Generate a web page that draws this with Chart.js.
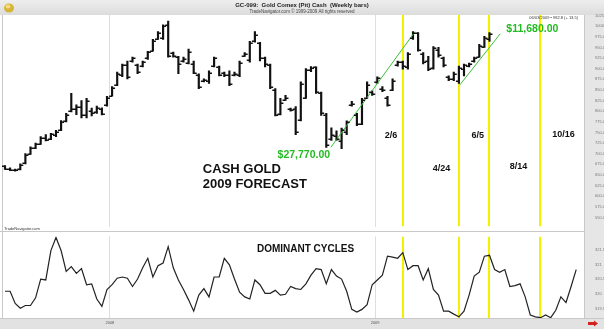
<!DOCTYPE html>
<html><head><meta charset="utf-8">
<script src="https://cdn.jsdelivr.net/npm/chart.js@4.4.0/dist/chart.umd.min.js"></script>
<style>
html,body{margin:0;padding:0;background:#fff;width:604px;height:329px;overflow:hidden;}
#a{position:absolute;left:0;top:0;width:604px;height:232px;}
#b{position:absolute;left:0;top:231px;width:604px;height:98px;}
</style></head><body>
<canvas id="a" width="604" height="232"></canvas>
<canvas id="b" width="604" height="98"></canvas>
<script>
// ---- data (weekly bars, index 0 = week of 2007-08-10) ----
const lows   = [663,660,659,662,676,698,712,722,730,733, 740,754,775,798,792,784,784,789,795,791, 812,835,860,881,876,915,888,904,922,941, 969,969,927,927,888,915,911,888,853,869, 865,904,883,881,860,883,881,929,915,962, 918,904,853,789,791,825,800,745,777,830, 893,842,790,715,731,731,712,745,812,766, 768,830,837,865,846,812,848,906,899,899, 969,941,911,895,899,927,904,872,872,865, 883,904,915,927,950,964];
const highs  = [672,667,664,676,700,716,725,740,745,748, 755,778,795,842,815,825,830,807,812,808, 835,858,892,911,918,927,911,918,941,969, 987,1003,1012,939,929,927,946,918,888,876, 895,927,906,892,895,892,918,938,964,987, 962,927,911,853,830,837,807,811,869,900, 905,904,845,795,761,754,760,777,823,795, 830,869,848,881,858,835,876,918,918,938, 987,985,938,929,952,950,927,883,892,906, 911,913,927,957,976,985];
const opens  = [670,665,662,663,677,699,713,723,738,734, 745,755,776,800,805,810,790,800,797,806, 814,836,862,884,908,917,909,906,924,942, 970,972,1002,937,928,918,914,912,886,870, 870,906,904,890,885,885,885,930,920,964, 960,925,908,850,794,826,806,805,780,832, 898,903,843,792,735,742,730,752,814,790, 770,832,846,868,852,830,850,908,915,905, 972,984,935,918,902,945,925,880,875,870, 900,906,917,928,952,970];
const closes = [665,662,661,674,697,713,722,738,733,746, 752,775,792,805,810,790,825,795,808,794, 832,855,888,908,880,924,892,915,938,965, 985,1000,930,930,912,922,940,890,858,874, 890,924,886,884,864,888,914,934,960,980, 925,910,858,792,820,832,802,752,865,897, 902,846,795,720,745,735,755,774,818,770, 826,862,840,878,850,815,872,915,906,935, 985,944,915,900,948,932,908,875,888,902, 908,911,925,954,972,982];
const cycle  = [320.10,320.10,319.69,319.53,319.62,319.62,319.88,320.51,320.48,321.47,
  321.91,321.47,320.77,320.93,320.70,320.86,320.32,320.35,319.84,319.59,
  320.16,320.32,320.54,320.58,320.54,320.26,320.51,320.89,321.21,320.58,
  320.96,321.05,321.60,320.89,320.48,320.16,319.81,319.43,319.97,320.19,
  319.91,320.58,320.58,321.21,320.99,320.51,320.07,319.91,319.84,320.48,
  320.32,320.03,320.03,320.13,319.97,320.00,320.26,320.19,320.16,320.35,
  320.64,320.86,320.83,320.35,320.83,320.61,320.51,320.10,319.49,319.40,
  319.49,319.65,320.32,320.48,320.64,321.28,321.25,321.21,321.40,320.83,
  320.96,320.96,320.48,320.86,320.16,319.97,319.43,319.43,319.33,319.24,
  319.43,319.97,320.61,320.74,321.28,321.31,320.83,320.74,320.83,320.26,
  320.29,320.35,319.91,319.30,319.24,319.21,319.30,319.21,319.46,319.91,
  319.72,320.26,320.83];
const yearLabels = ['2008','2009'];
const yearPos    = [20.57, 72.57];
const cycleDates = ['2/6','4/24','6/5','8/14','10/16'];
const cyclePos   = [78, 89, 95, 105, 114];
const priceTicks = [550,575,600,625,650,675,700,725,750,775,800,825,850,875,900,925,950,975,1000,1025];
const cycleTicks = [319.5,320,320.5,321,321.5];
const trend1 = [{x:63.9,y:715},{x:80.4,y:987}];
const trend2 = [{x:89.2,y:862},{x:97.1,y:982}];
const callouts = [{t:'$27,770.00',x:58.6,y:697},{t:'$11,680.00',x:103.4,y:994}];

const FONT = "'Liberation Sans', Arial, sans-serif";
const XMIN = -0.39, XMAX = 113.53;

function yellowLines(chart){
  const {ctx, chartArea:a, scales:{x}} = chart;
  ctx.save();
  ctx.beginPath(); ctx.rect(a.left, a.top, a.right-a.left, a.bottom-a.top); ctx.clip();
  ctx.strokeStyle = '#f2f200'; ctx.lineWidth = 2;
  cyclePos.forEach(v => { const px = Math.round(x.getPixelForValue(v)); ctx.beginPath(); ctx.moveTo(px, a.top); ctx.lineTo(px, a.bottom); ctx.stroke(); });
  ctx.restore();
}

const plugA = {
  id:'plugA',
  beforeDraw(chart){
    const {ctx, chartArea:a} = chart;
    ctx.save();
    ctx.fillStyle='#fff'; ctx.fillRect(0,0,604,232);
    const g = ctx.createLinearGradient(0,0,0,15);
    g.addColorStop(0,'#eeeeee'); g.addColorStop(1,'#dcdcdc');
    ctx.fillStyle=g; ctx.fillRect(0,0,604,15);
    ctx.fillStyle='#e6e6e6'; ctx.fillRect(a.right,15,604-a.right,232-15);
    ctx.strokeStyle='#c8c8c8'; ctx.lineWidth=1;
    ctx.beginPath(); ctx.moveTo(a.right+0.5,15); ctx.lineTo(a.right+0.5,232); ctx.stroke();
    ctx.beginPath(); ctx.moveTo(2.5,15); ctx.lineTo(2.5,232); ctx.stroke();
    ctx.beginPath(); ctx.moveTo(0,231.5); ctx.lineTo(a.right,231.5); ctx.stroke();
    // logo
    ctx.fillStyle='#d9b43a';
    ctx.beginPath(); ctx.ellipse(9,8,5,4.5,0,0,Math.PI*2); ctx.fill();
    ctx.fillStyle='#f3dc7a'; ctx.beginPath(); ctx.ellipse(8,6.5,2.5,2,0,0,Math.PI*2); ctx.fill();
    // header texts
    ctx.fillStyle='#222'; ctx.textAlign='center'; ctx.textBaseline='middle';
    ctx.font = 'bold 6px ' + FONT;
    ctx.fillText('GC-099:  Gold Comex (Pit) Cash  (Weekly bars)', 302, 5.5);
    ctx.font = '4.5px ' + FONT; ctx.fillStyle='#444';
    ctx.fillText('TradeNavigator.com \u00A9 1999-2009 All rights reserved', 302, 11.5);
    ctx.restore();
    yellowLines(chart);
  },
  afterDatasetsDraw(chart){
    const {ctx, scales:{x,y}} = chart;
    ctx.save();
    ctx.strokeStyle='#111'; ctx.lineWidth=1.4; ctx.beginPath();
    for(let i=0;i<opens.length;i++){
      const px = x.getPixelForValue(i);
      const po = Math.round(y.getPixelForValue(opens[i]))+0.3;
      const pc = Math.round(y.getPixelForValue(closes[i]))+0.3;
      ctx.moveTo(px-3, po); ctx.lineTo(px, po);
      ctx.moveTo(px, pc); ctx.lineTo(px+3, pc);
    }
    ctx.stroke();
    // annotations
    ctx.textBaseline='middle';
    ctx.fillStyle='#22bb22'; ctx.font='bold 10.5px '+FONT; ctx.textAlign='center';
    callouts.forEach(c => ctx.fillText(c.t, x.getPixelForValue(c.x), y.getPixelForValue(c.y)));
    ctx.fillStyle='#111'; ctx.font='bold 13px '+FONT; ctx.textAlign='left';
    ctx.fillText('CASH GOLD', x.getPixelForValue(38.8), y.getPixelForValue(664));
    ctx.fillText('2009 FORECAST', x.getPixelForValue(38.8), y.getPixelForValue(627.5));
    ctx.font='bold 9px '+FONT; ctx.textAlign='center';
    const lp = [[75.7,743],[85.6,664],[92.7,743],[100.7,669],[109.5,745]];
    cycleDates.forEach((d,k)=> ctx.fillText(d, x.getPixelForValue(lp[k][0]), y.getPixelForValue(lp[k][1])));
    ctx.font='4px '+FONT; ctx.fillStyle='#333'; ctx.textAlign='right';
    ctx.fillText('06/03/2009 \u2022 982.8 (+ 13.5)', 578, 17.5);
    ctx.textAlign='left'; ctx.fillText('TradeNavigator.com', 4, 228.5);
    ctx.restore();
  }
};

const plugB = {
  id:'plugB',
  beforeDraw(chart){
    const {ctx, chartArea:a} = chart;
    ctx.save();
    ctx.fillStyle='#fff'; ctx.fillRect(0,0,604,98);
    ctx.fillStyle='#e6e6e6'; ctx.fillRect(a.right,0,604-a.right,a.bottom);
    ctx.fillStyle='#e2e2e2'; ctx.fillRect(0,a.bottom,604,98-a.bottom);
    ctx.strokeStyle='#c8c8c8'; ctx.lineWidth=1;
    ctx.beginPath(); ctx.moveTo(0,0.5); ctx.lineTo(a.right,0.5); ctx.stroke();
    ctx.beginPath(); ctx.moveTo(a.right+0.5,0); ctx.lineTo(a.right+0.5,a.bottom); ctx.stroke();
    ctx.beginPath(); ctx.moveTo(2.5,0); ctx.lineTo(2.5,a.bottom); ctx.stroke();
    ctx.beginPath(); ctx.moveTo(0,a.bottom+0.5); ctx.lineTo(604,a.bottom+0.5); ctx.stroke();
    ctx.restore();
    yellowLines(chart);
  },
  afterDraw(chart){
    const {ctx, scales:{x,y}} = chart;
    ctx.save();
    ctx.fillStyle='#111'; ctx.font='bold 10px '+FONT; ctx.textAlign='left'; ctx.textBaseline='middle';
    ctx.fillText('DOMINANT CYCLES', x.getPixelForValue(49.4), y.getPixelForValue(321.53));
    // red arrow
    ctx.fillStyle='#d42020';
    ctx.beginPath(); ctx.moveTo(588,91); ctx.lineTo(594,91); ctx.lineTo(594,89.5); ctx.lineTo(598,92.5); ctx.lineTo(594,95.5); ctx.lineTo(594,94); ctx.lineTo(588,94); ctx.closePath(); ctx.fill();
    ctx.restore();
  }
};

const xCommon = (showLabels) => ({
  type:'linear', min:XMIN, max:XMAX, offset:false,
  grid:{display:true, color:'#dedede', lineWidth:1, drawTicks:false, offset:false},
  border:{display:false},
  ticks:{display:showLabels, font:{size:4, family:FONT}, color:'#555', padding:2, maxRotation:0, autoSkip:false,
         callback:(v)=>{ const k = yearPos.indexOf(v); return k>=0 ? yearLabels[k] : ''; }},
  afterBuildTicks:(s)=>{ s.ticks = yearPos.map(v=>({value:v})); },
  afterFit:(s)=>{ s.height = showLabels ? 11 : 0; }
});

new Chart(document.getElementById('a'), {
  type:'bar',
  data:{ datasets:[
    { type:'line', data:trend1, borderColor:'#3cbf3c', borderWidth:1, pointRadius:0, order:0 },
    { type:'line', data:trend2, borderColor:'#3cbf3c', borderWidth:1, pointRadius:0, order:0 },
    { type:'bar', data:highs.map((h,i)=>({x:i, y:[lows[i],h]})), backgroundColor:'#111', barThickness:1.5, grouped:false, order:1 }
  ]},
  options:{
    responsive:false, animation:false, devicePixelRatio:1,
    layout:{padding:{left:3,right:0,top:15,bottom:1}},
    plugins:{legend:{display:false}, tooltip:{enabled:false}},
    scales:{
      x: xCommon(false),
      y:{ position:'right', min:528.5, max:1026.2,
          grid:{display:false}, border:{display:false},
          ticks:{font:{size:4, family:FONT}, color:'#777', padding:3, callback:v=>Number(v).toFixed(1)},
          afterBuildTicks:(s)=>{ s.ticks = priceTicks.map(v=>({value:v})); },
          afterFit:(s)=>{ s.width = 20; } }
    }
  },
  plugins:[plugA]
});

new Chart(document.getElementById('b'), {
  type:'line',
  data:{ datasets:[
    { data:cycle.map((v,i)=>({x:i,y:v})), borderColor:'#222', borderWidth:1.2, pointRadius:0, tension:0 }
  ]},
  options:{
    responsive:false, animation:false, devicePixelRatio:1,
    layout:{padding:{left:3,right:0,top:1,bottom:0}},
    plugins:{legend:{display:false}, tooltip:{enabled:false}},
    scales:{
      x: xCommon(true),
      y:{ position:'right', min:319.2, max:321.946,
          grid:{display:false}, border:{display:false},
          ticks:{font:{size:4, family:FONT}, color:'#777', padding:3, callback:v=> Number.isInteger(v) ? String(v) : Number(v).toFixed(2)},
          afterBuildTicks:(s)=>{ s.ticks = cycleTicks.map(v=>({value:v})); },
          afterFit:(s)=>{ s.width = 20; } }
    }
  },
  plugins:[plugB]
});
</script>
</body></html>
